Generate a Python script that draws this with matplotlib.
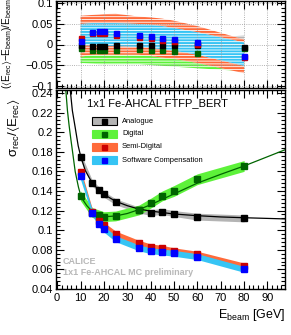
import matplotlib
matplotlib.use('Agg')
import matplotlib.pyplot as plt
from matplotlib.ticker import MultipleLocator, FuncFormatter
from matplotlib.patches import Rectangle

plt.rcParams['font.family'] = ['Liberation Sans', 'DejaVu Sans']
plt.rcParams['mathtext.fontset'] = 'custom'
plt.rcParams['mathtext.rm'] = 'Liberation Sans'
plt.rcParams['mathtext.it'] = 'Liberation Sans:italic'
plt.rcParams['mathtext.fallback'] = 'stixsans'
plt.rcParams['hatch.linewidth'] = 1.4

# beam energies [GeV]
energy = [10, 15, 18, 20, 25, 35, 40, 45, 50, 60, 80]

# relative resolution sigma/<E>
res_ana = [0.175, 0.148, 0.141, 0.1366, 0.129, 0.1206, 0.118, 0.119, 0.117, 0.1138, 0.112]
res_dig = [0.135, 0.118, 0.1155, 0.1138, 0.1145, 0.1206, 0.1275, 0.135, 0.140, 0.152, 0.1655]
res_semi = [0.159, 0.119, 0.1097, 0.105, 0.0961, 0.0866, 0.083, 0.0815, 0.079, 0.0755, 0.0635]
res_sc = [0.1556, 0.118, 0.106, 0.101, 0.0913, 0.082, 0.079, 0.0778, 0.0764, 0.073, 0.060]

# band half widths
err_ana = [0.004, 0.003, 0.003, 0.003, 0.003, 0.003, 0.003, 0.003, 0.003, 0.0035, 0.0035]
err_dig = [0.005, 0.005, 0.005, 0.005, 0.005, 0.005, 0.005, 0.005, 0.0055, 0.0055, 0.0055]
err_semi = [0.004, 0.003, 0.003, 0.003, 0.003, 0.003, 0.003, 0.003, 0.003, 0.003, 0.003]
err_sc = [0.004, 0.003, 0.003, 0.003, 0.003, 0.003, 0.003, 0.003, 0.003, 0.003, 0.003]

# fit curves
fit_ana_e = [5.6, 6.5, 7.7, 9.0, 10, 12, 15, 18, 20, 25, 30, 35, 40, 50, 60, 70, 80, 97.5]
fit_ana_v = [0.243, 0.222, 0.205, 0.186, 0.176, 0.161, 0.148, 0.1405, 0.1365, 0.1295, 0.125,
             0.1215, 0.1195, 0.1165, 0.1148, 0.1135, 0.1127, 0.1115]
fit_dig_e = [3.7, 4.4, 5.1, 5.9, 6.7, 7.7, 9.1, 10, 11, 12.7, 15, 18, 20, 22, 25, 30, 35, 40,
             50, 60, 70, 80, 97.5]
fit_dig_v = [0.243, 0.222, 0.207, 0.192, 0.178, 0.16, 0.144, 0.136, 0.131, 0.125, 0.119,
             0.1155, 0.1143, 0.114, 0.1145, 0.117, 0.121, 0.126, 0.137, 0.148, 0.157, 0.1655, 0.182]

# linearity (<E_rec>-E_beam)/E_beam
dev_ana = [0.0, -0.003, -0.003, -0.003, -0.002, -0.001, 0.0, -0.001, 0.0, -0.002, -0.006]
dev_dig = [-0.008, -0.013, -0.013, -0.013, -0.014, -0.012, -0.013, -0.014, -0.016, -0.020, -0.008]
dev_semi = [0.017, 0.027, 0.029, 0.029, 0.024, 0.018, 0.017, 0.012, 0.009, 0.001, -0.031]
dev_sc = [0.008, 0.030, 0.032, 0.032, 0.028, 0.022, 0.021, 0.016, 0.013, 0.006, -0.027]

# systematic bands on linearity
band_ana_lo = [-0.008, -0.009, -0.009, -0.009, -0.009, -0.010, -0.010, -0.011, -0.012, -0.014, -0.020]
band_ana_hi = [0.008, 0.009, 0.009, 0.009, 0.009, 0.010, 0.010, 0.011, 0.012, 0.014, 0.022]
band_dig_lo = [-0.045, -0.047, -0.048, -0.048, -0.048, -0.048, -0.050, -0.052, -0.054, -0.058, -0.065]
band_dig_hi = [-0.018, -0.020, -0.020, -0.020, -0.021, -0.022, -0.024, -0.026, -0.028, -0.032, -0.040]
band_semi_lo = [-0.030, -0.025, -0.025, -0.025, -0.025, -0.025, -0.028, -0.032, -0.035, -0.045, -0.070]
band_semi_hi = [0.070, 0.072, 0.073, 0.074, 0.075, 0.068, 0.066, 0.063, 0.058, 0.045, 0.012]
band_sc_lo = [-0.002, -0.002, -0.003, -0.003, -0.004, -0.006, -0.008, -0.012, -0.015, -0.025, -0.052]
band_sc_hi = [0.050, 0.052, 0.052, 0.052, 0.052, 0.050, 0.048, 0.045, 0.040, 0.030, 0.005]

labels = ['Analogue', 'Digital', 'Semi-Digital', 'Software Compensation']

c_gray, c_black = '#b4b4b4', 'black'
c_lime, c_dgreen = '#5df23a', '#006400'
c_orange, c_red = '#ff6a3a', '#cc0000'
c_cyan, c_blue = '#36c4f4', '#0000ff'

W, H = 291, 335
fig = plt.figure(figsize=(W / 100, H / 100), dpi=100)
ax_top = fig.add_axes([56 / W, 1 - 88 / H, 229 / W, 87 / H])
ax = fig.add_axes([56 / W, 1 - 289 / H, 229 / W, 199 / H])


def lo_hi(v, e):
    return [a - b for a, b in zip(v, e)], [a + b for a, b in zip(v, e)]


def fmt(x, pos):
    s = '%g' % round(x, 4)
    return s.replace('-', '\u2212')


for a in (ax_top, ax):
    a.set_xlim(-0.5, 97.5)
    a.xaxis.set_major_locator(MultipleLocator(10))
    a.xaxis.set_minor_locator(MultipleLocator(2))
    a.tick_params(which='both', direction='in', top=True, right=True, labelsize=8, width=0.8)
    a.tick_params(which='major', length=6)
    a.tick_params(which='minor', length=3)
    for s in a.spines.values():
        s.set_linewidth(1.0)

# ---- upper panel: linearity ----
ax_top.set_ylim(-0.106, 0.106)
ax_top.yaxis.set_major_locator(MultipleLocator(0.05))
ax_top.yaxis.set_minor_locator(MultipleLocator(0.01))
ax_top.yaxis.set_major_formatter(FuncFormatter(fmt))
ax_top.tick_params(axis='x', labelbottom=False)
ax_top.tick_params(axis='y', pad=2)
ax_top.grid(True, which='major', color='#999999', linestyle=':', linewidth=0.6)

for lo, hi, col in [(band_ana_lo, band_ana_hi, c_gray),
                    (band_dig_lo, band_dig_hi, c_lime),
                    (band_semi_lo, band_semi_hi, c_orange),
                    (band_sc_lo, band_sc_hi, c_cyan)]:
    ax_top.fill_between(energy, lo, hi, facecolor='white', edgecolor=col,
                        hatch='------', linewidth=0)

for dev, col in [(dev_dig, c_dgreen), (dev_ana, c_black), (dev_semi, c_red), (dev_sc, c_blue)]:
    ax_top.plot(energy, dev, 's', color=col, markersize=3.6, linestyle='none')

# ---- lower panel: resolution ----
ax.set_ylim(0.04, 0.243)
ax.yaxis.set_major_locator(MultipleLocator(0.02))
ax.yaxis.set_minor_locator(MultipleLocator(0.004))
ax.yaxis.set_major_formatter(FuncFormatter(fmt))
ax.tick_params(axis='y', pad=2)
ax.tick_params(axis='x', pad=3)

series = [(res_ana, err_ana, c_gray, c_black),
          (res_dig, err_dig, c_lime, c_dgreen),
          (res_semi, err_semi, c_orange, c_red),
          (res_sc, err_sc, c_cyan, c_blue)]
for res, err, band, col in series:
    lo, hi = lo_hi(res, err)
    ax.fill_between(energy, lo, hi, color=band, linewidth=0)

ax.plot(fit_ana_e, fit_ana_v, color='black', linewidth=0.9)
ax.plot(fit_dig_e, fit_dig_v, color=c_dgreen, linewidth=0.9)

for res, err, band, col in series:
    ax.plot(energy, res, 's', color=col, markersize=3.8, linestyle='none')

ax.set_xlabel('E$_{\\mathrm{beam}}$ [GeV]', fontsize=9, loc='right', labelpad=3)

# legend
ax.text(0.135, 0.935, '1x1 Fe-AHCAL FTFP_BERT', transform=ax.transAxes, fontsize=8,
        va='center', ha='left')
rows_y = [0.844, 0.779, 0.714, 0.648]
for (res, err, band, col), lab, y in zip(series, labels, rows_y):
    ec = 'black' if band == c_gray else band
    ax.add_patch(Rectangle((0.157, y - 0.02), 0.109, 0.04, transform=ax.transAxes,
                           facecolor=band, edgecolor=ec, linewidth=0.8))
    ax.plot([0.2115], [y], 's', color=col, markersize=3.6, transform=ax.transAxes)
    ax.text(0.288, y, lab, transform=ax.transAxes, fontsize=5.4, va='center', ha='left')

ax.text(0.031, 0.136, 'CALICE', transform=ax.transAxes, fontsize=6.5, fontweight='bold',
        color='#b8b8b8', va='center', ha='left')
ax.text(0.031, 0.085, '1x1 Fe-AHCAL MC preliminary', transform=ax.transAxes, fontsize=6.5,
        fontweight='bold', color='#b8b8b8', va='center', ha='left')

# y axis titles
fig.text(7 / W, 1 - 44 / H,
         '($\\langle$E$_{\\mathrm{rec}}$$\\rangle$\u2212E$_{\\mathrm{beam}}$)/E$_{\\mathrm{beam}}$',
         rotation=90, fontsize=7.2, ha='center', va='center')
fig.text(13 / W, 1 - 128 / H,
         '\u03c3$_{\\mathrm{rec}}$/$\\langle$E$_{\\mathrm{rec}}$$\\rangle$',
         rotation=90, fontsize=9.5, ha='center', va='center')

fig.savefig('out.png', dpi=100)
